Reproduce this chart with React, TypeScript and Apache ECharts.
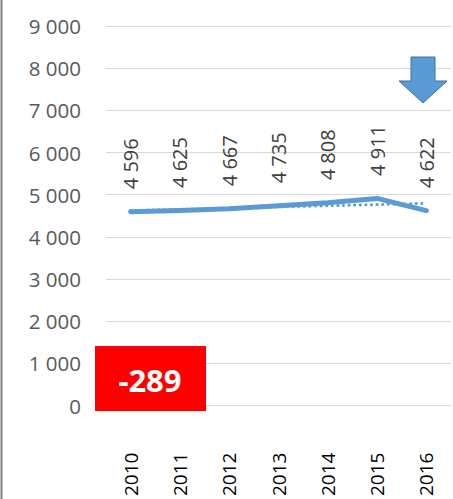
import React, { useEffect, useRef } from "react";
import * as echarts from "echarts";

const years = ["2010", "2011", "2012", "2013", "2014", "2015", "2016"];
const values = [4596, 4625, 4667, 4735, 4808, 4911, 4622];
const trendValues = [4624, 4653, 4681, 4709, 4737, 4766, 4794];
const yTicks = [0, 1000, 2000, 3000, 4000, 5000, 6000, 7000, 8000, 9000];
const changeLabel = "-289";

const fmt = (v: number) => String(v).replace(/\B(?=(\d{3})+(?!\d))/g, " ");

export default function App() {
  const ref = useRef<HTMLDivElement>(null);
  useEffect(() => {
    document.body.style.margin = "0";
    const chart = echarts.init(ref.current!, null, { renderer: "svg" });
    chart.setOption({
      animation: false,
      backgroundColor: "#ffffff",
      grid: { left: 106, right: 2, top: 26, bottom: 91, containLabel: false },
      xAxis: {
        type: "category",
        data: years,
        boundaryGap: true,
        axisLine: { show: false },
        axisTick: { show: false },
        axisLabel: {
          rotate: 90,
          margin: 47,
          color: "#000000",
          fontFamily: "Open Sans",
          fontSize: 19,
        },
      },
      yAxis: {
        type: "value",
        min: yTicks[0],
        max: yTicks[yTicks.length - 1],
        interval: 1000,
        axisLine: { show: false },
        axisTick: { show: false },
        splitLine: { lineStyle: { color: "#D9D9D9", width: 1 } },
        axisLabel: {
          margin: 25,
          color: "#595959",
          fontFamily: "Open Sans",
          fontSize: 20.5,
          formatter: (v: number) => fmt(v),
        },
      },
      series: [
        {
          type: "line",
          data: trendValues,
          symbol: "none",
          z: 1,
          lineStyle: { color: "#5B9BD5", width: 3, type: [0.1, 5.5], cap: "round" },
        },
        {
          type: "line",
          data: values,
          symbol: "circle",
          symbolSize: 1,
          showSymbol: true,
          itemStyle: { color: "rgba(91,155,213,0)" },
          z: 2,
          lineStyle: { color: "#5B9BD5", width: 5, cap: "round", join: "round" },
          label: {
            show: true,
            position: "top",
            distance: 22,
            rotate: 90,
            align: "left",
            verticalAlign: "middle",
            color: "#404040",
            fontFamily: "Open Sans",
            fontSize: 20,
            formatter: (p: any) => fmt(p.value),
          },
          labelLayout: { hideOverlap: false },
        },
      ],
      graphic: [
        {
          type: "line",
          shape: { x1: 1.5, y1: 0, x2: 1.5, y2: 499 },
          style: { stroke: "#7F7F7F", lineWidth: 2 },
        },
        {
          type: "rect",
          shape: { x: 95, y: 346, width: 111, height: 65 },
          style: { fill: "#FF0000" },
          z: 10,
        },
        {
          type: "text",
          x: 150,
          y: 380,
          z: 11,
          style: {
            text: changeLabel,
            fill: "#FFFFFF",
            font: "bold 31px 'Open Sans'",
            align: "center",
            verticalAlign: "middle",
          },
        },
        {
          type: "polygon",
          z: 10,
          shape: {
            points: [
              [411, 57],
              [435, 57],
              [435, 81],
              [447, 81],
              [423, 103],
              [399, 81],
              [411, 81],
            ],
          },
          style: { fill: "#5B9BD5", stroke: "#41719C", lineWidth: 1 },
        },
      ],
    });
    return () => chart.dispose();
  }, []);
  return <div ref={ref} style={{ width: 453, height: 499 }} />;
}
